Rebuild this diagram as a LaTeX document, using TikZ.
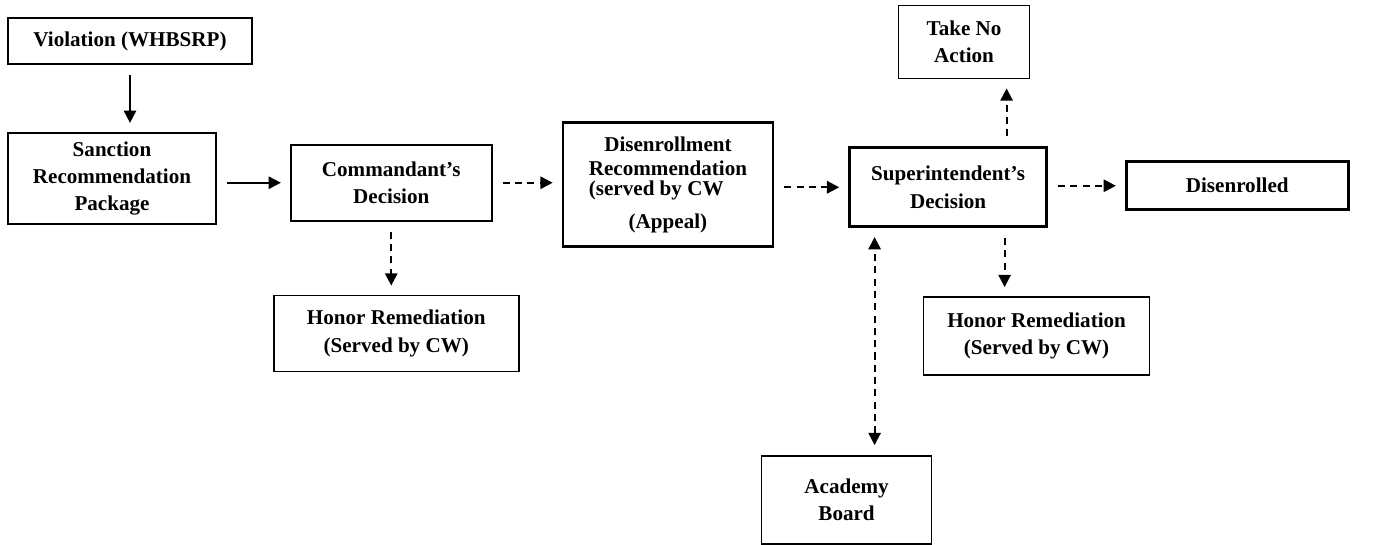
\documentclass[tikz,border=0pt]{standalone}
\usepackage{fontspec}
\setmainfont{Liberation Serif}
\usepackage{tikz}
\usetikzlibrary{arrows.meta, positioning}

\begin{document}
\begin{tikzpicture}[
    font=\bfseries\fontsize{12}{15.5}\selectfont,
    box/.style={draw, line width=1pt, align=center, inner sep=2pt},
    boldbox/.style={box, line width=1.5pt},
    arrow/.style={-{Triangle[length=7pt, width=7pt]}, line width=1.2pt, shorten <=0.2cm, shorten >=0.18cm},
    dasharrow/.style={arrow, dash pattern=on 4pt off 3pt}
]
\useasboundingbox (0,0) rectangle (27.68,-10.88);

% --- Blocks ---
\node[box, minimum width=4.88cm, minimum height=0.92cm] (viol) at (2.60,-0.82) {Violation (WHBSRP)};

\node[box, minimum width=4.16cm, minimum height=1.82cm, below=1.34cm of viol, xshift=-0.36cm] (sanc)
    {Sanction\\Recommendation\\Package};

\node[box, minimum width=4.02cm, minimum height=1.52cm, right=1.46cm of sanc, yshift=-0.09cm] (comm)
    {Commandant's\\Decision};

\node[box, minimum width=4.90cm, minimum height=1.52cm, below=1.46cm of comm, xshift=0.10cm] (hon1)
    {Honor Remediation\\(Served by CW)};

\node[boldbox, minimum width=4.20cm, minimum height=2.48cm, right=1.38cm of comm, yshift=-0.04cm,
      font=\bfseries\fontsize{12}{13.6}\selectfont] (disrec)
    {Disenrollment\\Recommendation\\[-2.3pt]\rlap{(served by CW}\phantom{Recommendation}\\[5pt](Appeal)};

\node[boldbox, minimum width=3.94cm, minimum height=1.58cm, right=1.48cm of disrec, yshift=-0.05cm] (supt)
    {Superintendent's\\Decision};

\node[box, minimum width=2.62cm, minimum height=1.46cm, above=1.34cm of supt, xshift=0.32cm] (takeno)
    {Take No\\Action};

\node[boldbox, minimum width=4.44cm, minimum height=0.96cm, right=1.54cm of supt, yshift=0.03cm] (disen)
    {Disenrolled};

\node[box, minimum width=4.52cm, minimum height=1.56cm, below=1.36cm of supt, xshift=1.77cm] (hon2)
    {Honor Remediation\\(Served by CW)};

\node[box, minimum width=3.40cm, minimum height=1.76cm, below=4.54cm of supt, xshift=-2.03cm] (acad)
    {Academy\\Board};

% --- Arrows ---
\draw[arrow] (viol.south) -- (viol.south |- sanc.north);
\draw[arrow] (sanc.east |- comm.west) -- (comm.west);
\draw[dasharrow] (comm.east) -- (comm.east -| disrec.west);
\draw[dasharrow] (comm.south) -- (comm.south |- hon1.north);
\draw[dasharrow] (disrec.east |- supt.west) -- (supt.west);
\draw[dasharrow] ([xshift=1.17cm]supt.north) -- ([xshift=1.17cm]supt.north |- takeno.south);
\draw[dasharrow] (supt.east |- disen.west) -- (disen.west);
\draw[dasharrow] ([xshift=1.13cm]supt.south) -- ([xshift=1.13cm]supt.south |- hon2.north);
\draw[dasharrow, {Triangle[length=7pt, width=7pt]}-{Triangle[length=7pt, width=7pt]}]
    ([xshift=0.56cm]acad.north) -- ([xshift=0.56cm]acad.north |- supt.south);

\end{tikzpicture}
\end{document}
